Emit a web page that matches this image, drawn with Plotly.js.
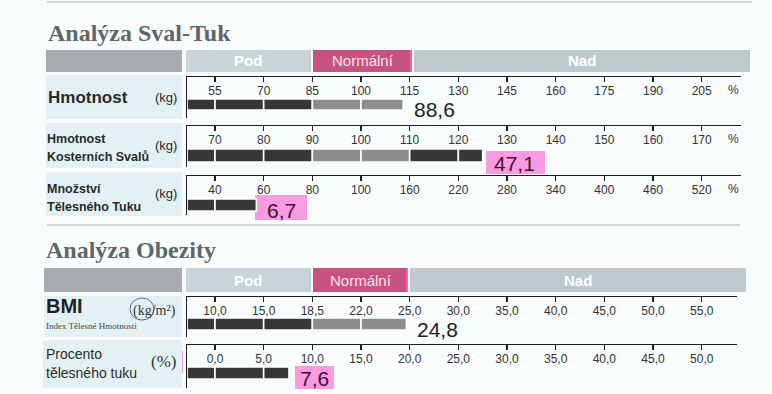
<!DOCTYPE html>
<html>
<head>
<meta charset="utf-8">
<script src="https://cdn.plot.ly/plotly-3.0.1.min.js"></script>
<style>html,body{margin:0;padding:0;background:#f9fcfc;}#chart{width:772px;height:394px;}</style>
</head>
<body>
<div id="chart"></div>
<script>
// ---------- DATA ----------
const weightTicks = [55, 70, 85, 100, 115, 130, 145, 160, 175, 190, 205];
const smmTicks = [70, 80, 90, 100, 110, 120, 130, 140, 150, 160, 170];
const fatMassTicks = [40, 60, 80, 100, 160, 220, 280, 340, 400, 460, 520];
const bmiTicks = [10.0, 15.0, 18.5, 22.0, 25.0, 30.0, 35.0, 40.0, 45.0, 50.0, 55.0];
const pbfTicks = [0.0, 5.0, 10.0, 15.0, 20.0, 25.0, 30.0, 35.0, 40.0, 45.0, 50.0];

const measuredValues = [88.6, 47.1, 6.7, 24.8, 7.6];      // kg, kg, kg, kg/m², %
const barLevels = [113, 125, 57, 24.8, 7.6];              // position of bar end on each scale
const rowLabels = [["Hmotnost"], ["Hmotnost", "Kosterních Svalů"], ["Množství", "Tělesného Tuku"], ["BMI"], ["Procento", "tělesného tuku"]];
const rowUnits = ["(kg)", "(kg)", "(kg)", "(kg/m²)", "(%)"];
const sectionTitles = ["Analýza Sval-Tuk", "Analýza Obezity"];
const zoneNames = ["Pod", "Normální", "Nad"];

// ---------- LAYOUT HELPERS ----------
const W = 772, H = 394;
const PX = x => x / W, PY = y => 1 - y / H;
const T0 = 215, STEP = 48.67;           // pixel of first tick, pixel per tick step
const slotOf = p => (p - T0) / STEP;
const LEFT = 187;

function toSlot(v, ticks) {
  // piecewise-linear position along the tick scale
  if (v <= ticks[0]) return (v - ticks[0]) / (ticks[1] - ticks[0]);
  for (let i = 0; i < ticks.length - 1; i++) {
    if (v <= ticks[i + 1]) return i + (v - ticks[i]) / (ticks[i + 1] - ticks[i]);
  }
  const n = ticks.length - 1;
  return n + (v - ticks[n]) / (ticks[n] - ticks[n - 1]);
}
const comma1 = v => v.toFixed(1).replace('.', ',');

const rows = [
  {ticks: weightTicks, fmt: v => String(v), top: 77, bot: 118, barTop: 99, barBot: 110, right: 741, pct: true, valY: 110, hl: null, unitHL: null},
  {ticks: smmTicks, fmt: v => String(v), top: 126, bot: 167, barTop: 149, barBot: 162, right: 741, pct: true, valY: 163, hl: [486, 545, 151, 174], unitHL: null},
  {ticks: fatMassTicks, fmt: v => String(v), top: 176, bot: 215, barTop: 199, barBot: 211, right: 741, pct: true, valY: 210, hl: [255, 307, 195, 220], unitHL: [151, 182, 183, 204]},
  {ticks: bmiTicks, fmt: comma1, top: 297, bot: 337, barTop: 318, barBot: 330, right: 737, pct: false, valY: 329, hl: null, unitHL: null},
  {ticks: pbfTicks, fmt: comma1, top: 345, bot: 388, barTop: 367, barBot: 379, right: 737, pct: false, valY: 378, hl: [295, 334, 366, 389], unitHL: [148, 183, 351, 373]}
];

const DARK = '#373737', GRAY = '#8d8d8d';
const traces = [];
const layout = {
  width: W, height: H,
  margin: {l: 0, r: 0, t: 0, b: 0},
  paper_bgcolor: '#f9fcfc', plot_bgcolor: 'rgba(0,0,0,0)',
  showlegend: false, barmode: 'overlay',
  shapes: [], annotations: [],
  font: {family: 'Liberation Sans, Arial, sans-serif', color: '#2a2a2a'}
};

rows.forEach((r, i) => {
  const k = i + 1;
  const xa = 'x' + (k === 1 ? '' : k), ya = 'y' + (k === 1 ? '' : k);
  const xName = 'xaxis' + (k === 1 ? '' : k), yName = 'yaxis' + (k === 1 ? '' : k);
  layout[xName] = {
    domain: [PX(LEFT), PX(r.right)], range: [slotOf(LEFT), slotOf(r.right)],
    anchor: ya, side: 'top', showline: true, linecolor: '#1e1e1e', linewidth: 1.5,
    ticks: 'inside', ticklen: 5, tickwidth: 1.5, tickcolor: '#1e1e1e',
    ticklabelposition: 'inside', ticklabelstandoff: 4,
    tickvals: r.ticks.map((_, j) => j), ticktext: r.ticks.map(r.fmt),
    tickfont: {size: 12, color: '#333', family: 'Liberation Sans, Arial, sans-serif'},
    showgrid: false, zeroline: false, fixedrange: true
  };
  layout[yName] = {
    domain: [PY(r.bot), PY(r.top)], range: [r.bot, r.top], anchor: xa,
    showline: true, linecolor: '#1e1e1e', linewidth: 1.5,
    showticklabels: false, ticks: '', showgrid: false, zeroline: false, fixedrange: true
  };
  // bar segments split at tick marks
  const end = toSlot(barLevels[i], r.ticks);
  const bounds = [slotOf(LEFT)].concat(r.ticks.map((_, j) => j));
  const base = [], len = [], col = [];
  for (let j = 0; j < bounds.length - 1; j++) {
    const a = bounds[j], b = Math.min(bounds[j + 1], end);
    if (a >= end) break;
    base.push(a); len.push(b - a);
    const mid = (a + b) / 2;
    col.push(mid > 2 && mid < 4 ? GRAY : DARK);
  }
  traces.push({
    type: 'bar', orientation: 'h', xaxis: xa, yaxis: ya,
    base: base, x: len, y: base.map(() => (r.barTop + r.barBot) / 2),
    width: r.barBot - r.barTop,
    marker: {color: col, line: {color: '#ffffff', width: 1.6}},
    hoverinfo: 'skip'
  });
  // highlighter marks
  if (r.hl) layout.shapes.push({type: 'rect', xref: 'paper', yref: 'paper', x0: PX(r.hl[0]), x1: PX(r.hl[1]), y0: PY(r.hl[3]), y1: PY(r.hl[2]), fillcolor: '#f99be0', line: {width: 0}, layer: 'below'});
  if (r.unitHL) layout.shapes.push({type: 'rect', xref: 'paper', yref: 'paper', x0: PX(r.unitHL[0]), x1: PX(r.unitHL[1]), y0: PY(r.unitHL[3]), y1: PY(r.unitHL[2]), fillcolor: '#f99be0', line: {width: 0}, layer: 'below'});
  // value label
  layout.annotations.push({
    xref: xa, yref: ya, x: end, y: r.valY, xshift: 9, xanchor: 'left', yanchor: 'middle',
    text: comma1(measuredValues[i]), showarrow: false,
    font: {size: 21, color: r.hl ? '#4a1030' : '#222', family: 'Liberation Sans, Arial, sans-serif'}
  });
  if (r.pct) layout.annotations.push({xref: 'paper', yref: 'paper', x: PX(733), y: PY(r.top + 13), xanchor: 'center', yanchor: 'middle', text: '%', showarrow: false, font: {size: 12, color: '#333'}});
});

// ---------- STATIC DECOR ----------
const S = layout.shapes, A = layout.annotations;
const rect = (x0, x1, y0, y1, c) => S.push({type: 'rect', xref: 'paper', yref: 'paper', x0: PX(x0), x1: PX(x1), y0: PY(y1), y1: PY(y0), fillcolor: c, line: {width: 0}, layer: 'below'});
const hline = (x0, x1, y, c) => S.push({type: 'line', xref: 'paper', yref: 'paper', x0: PX(x0), x1: PX(x1), y0: PY(y), y1: PY(y), line: {color: c, width: 1}});
const text = (x, y, t, size, opts = {}) => A.push(Object.assign({xref: 'paper', yref: 'paper', x: PX(x), y: PY(y), xanchor: 'left', yanchor: 'middle', text: t, showarrow: false, font: {size: size, color: '#2a2a2a', family: 'Liberation Sans, Arial, sans-serif'}}, opts));

hline(47, 752, 2, '#a9b3b6');
hline(47, 740, 225, '#a9b3b6');

// section headers
[[50, 72, 46, 750, 413], [268, 292, 44, 746, 409]].forEach((h, s) => {
  const [y0, y1, xl, xr, nEnd] = h;
  rect(xl, 182, y0, y1, '#a7abad');
  rect(186, 311, y0, y1, '#c8d4da');
  rect(313, nEnd - 2, y0, y1, '#c9537f');
  rect(nEnd - 3, nEnd - 1, y0, y1, '#ff5fae');
  rect(nEnd + 1, xr, y0, y1, '#bec8cd');
  text(248, (y0 + y1) / 2, zoneNames[0], 15, {xanchor: 'center', font: {size: 15, color: '#ffffff', family: 'Liberation Sans, Arial, sans-serif', weight: 'bold'}});
  text((313 + nEnd) / 2, (y0 + y1) / 2, zoneNames[1], 15, {xanchor: 'center', font: {size: 15, color: '#fbe1ee', family: 'Liberation Sans, Arial, sans-serif'}});
  text((nEnd + xr) / 2, (y0 + y1) / 2, zoneNames[2], 15, {xanchor: 'center', font: {size: 15, color: '#ffffff', family: 'Liberation Sans, Arial, sans-serif', weight: 'bold'}});
  text(s === 0 ? 46 : 44, s === 0 ? 33 : 250, sectionTitles[s], 24, {font: {size: 24, color: '#5e6669', family: 'Liberation Serif, Times New Roman, serif', weight: 'bold'}});
});

// label boxes
[[46, 75, 119], [46, 123, 168], [46, 172, 216], [44, 296, 337], [43, 340, 388]].forEach(b => rect(b[0], 182, b[1], b[2], '#e3f1f4'));

const LBL = {size: 12.5, color: '#2a2a2a', family: 'Liberation Sans, Arial, sans-serif', weight: 'bold'};
text(46, 98, rowLabels[0][0], 17, {font: {size: 17, color: '#2a2a2a', family: 'Liberation Sans, Arial, sans-serif', weight: 'bold'}});
text(153, 97, rowUnits[0], 13);
text(45, 139, rowLabels[1][0], 12.5, {font: LBL});
text(45, 157, rowLabels[1][1], 12.5, {font: LBL});
text(153, 145, rowUnits[1], 13);
text(45, 189, rowLabels[2][0], 12.5, {font: LBL});
text(45, 207, rowLabels[2][1], 12.5, {font: LBL});
text(153, 193, rowUnits[2], 13);
text(44, 306, rowLabels[3][0], 20, {font: {size: 20, color: '#222', family: 'Liberation Sans, Arial, sans-serif', weight: 'bold'}});
text(131, 311, rowUnits[3], 14, {font: {size: 14, color: '#333', family: 'Liberation Serif, Times New Roman, serif'}});
text(44, 326, 'Index Tělesné Hmotnosti', 9, {font: {size: 9, color: '#444', family: 'Liberation Serif, Times New Roman, serif'}});
text(44, 354, rowLabels[4][0], 14, {font: {size: 14, color: '#2a2a2a', family: 'Liberation Sans, Arial, sans-serif'}});
text(44, 373, rowLabels[4][1], 14, {font: {size: 14, color: '#2a2a2a', family: 'Liberation Sans, Arial, sans-serif'}});
text(149, 361, rowUnits[4], 17, {font: {size: 17, color: '#333', family: 'Liberation Serif, Times New Roman, serif'}});
// hand-drawn circle around "kg"
S.push({type: 'circle', xref: 'paper', yref: 'paper', x0: PX(130), x1: PX(154), y0: PY(320), y1: PY(298), line: {color: '#4a6aa8', width: 1}});

Plotly.newPlot('chart', traces, layout, {staticPlot: true, displayModeBar: false});
</script>
</body>
</html>
